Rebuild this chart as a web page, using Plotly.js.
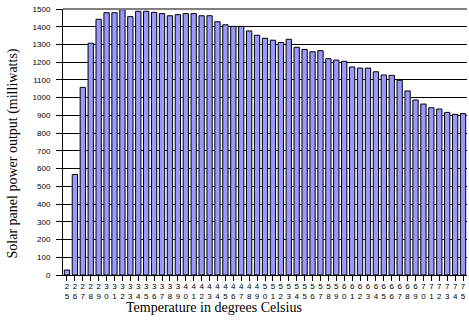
<!DOCTYPE html>
<html>
<head>
<meta charset="utf-8">
<script src="https://cdn.plot.ly/plotly-3.0.1.min.js"></script>
<style>html,body{margin:0;padding:0;background:#fff;}#chart{width:469px;height:324px;}</style>
</head>
<body>
<div id="chart"></div>
<script>
var temperatures = [25,26,27,28,29,30,31,32,33,34,35,36,37,38,39,40,41,42,43,44,45,46,47,48,49,50,51,52,53,54,55,56,57,58,59,60,61,62,63,64,65,66,67,68,69,70,71,72,73,74,75];
var powerOutput = [28,567,1058,1307,1442,1479,1479,1496,1457,1487,1487,1481,1474,1462,1468,1474,1474,1462,1462,1428,1411,1402,1402,1376,1352,1335,1324,1311,1329,1284,1272,1259,1265,1220,1212,1205,1173,1167,1167,1146,1128,1126,1098,1038,987,964,943,936,917,906,910];
var yTicks = [0,100,200,300,400,500,600,700,800,900,1000,1100,1200,1300,1400,1500];
var xTitle = "Temperature in degrees Celsius";
var yTitle = "Solar panel power output (milliwatts)";

var tickText = temperatures.map(function(t){ var s = String(t); return s.charAt(0) + "<br>" + s.charAt(1); });

var trace = {
  type: "bar",
  x: temperatures.map(String),
  y: powerOutput,
  marker: {color: "#9999ff", line: {color: "#000000", width: 1}},
  hoverinfo: "x+y"
};

var layout = {
  width: 469, height: 324,
  margin: {l: 63, r: 2, t: 9, b: 49, pad: 0},
  paper_bgcolor: "#ffffff",
  plot_bgcolor: "#ffffff",
  showlegend: false,
  bargap: 0.33,
  font: {family: "Liberation Sans, Arial, sans-serif", size: 8, color: "#000"},
  xaxis: {
    type: "category",
    tickmode: "array",
    tickvals: temperatures.map(String),
    ticktext: tickText,
    ticks: "outside", ticklen: 5, tickcolor: "#000", tickwidth: 1,
    ticklabelstandoff: -2,
    showline: true, linecolor: "#000", linewidth: 1,
    showgrid: false, zeroline: false,
    tickfont: {family: "Liberation Sans, Arial, sans-serif", size: 8, color: "#000"},
    automargin: false
  },
  yaxis: {
    range: [0, 1500],
    tickmode: "array",
    tickvals: yTicks,
    ticks: "outside", ticklen: 6, tickcolor: "#000", tickwidth: 1,
    ticklabelstandoff: 4,
    showline: true, linecolor: "#000", linewidth: 1,
    showgrid: true, gridcolor: "#000", gridwidth: 1,
    zeroline: false,
    tickfont: {family: "Liberation Sans, Arial, sans-serif", size: 8, color: "#000"},
    automargin: false
  },
  shapes: [{type: "line", xref: "paper", yref: "paper", x0: 0, x1: 1, y0: 1, y1: 1, line: {color: "#808080", width: 2}}],
  annotations: [
    {text: xTitle, xref: "paper", yref: "paper", x: 0.374, y: -0.124, xanchor: "center", yanchor: "middle", showarrow: false,
     font: {family: "Liberation Serif, Times New Roman, serif", size: 14, color: "#000"}},
    {text: yTitle, xref: "paper", yref: "paper", x: -0.125, y: 0.455, xanchor: "center", yanchor: "middle", textangle: -90, showarrow: false,
     font: {family: "Liberation Serif, Times New Roman, serif", size: 14, color: "#000"}}
  ]
};

Plotly.newPlot("chart", [trace], layout, {displayModeBar: false, staticPlot: true});
</script>
</body>
</html>
